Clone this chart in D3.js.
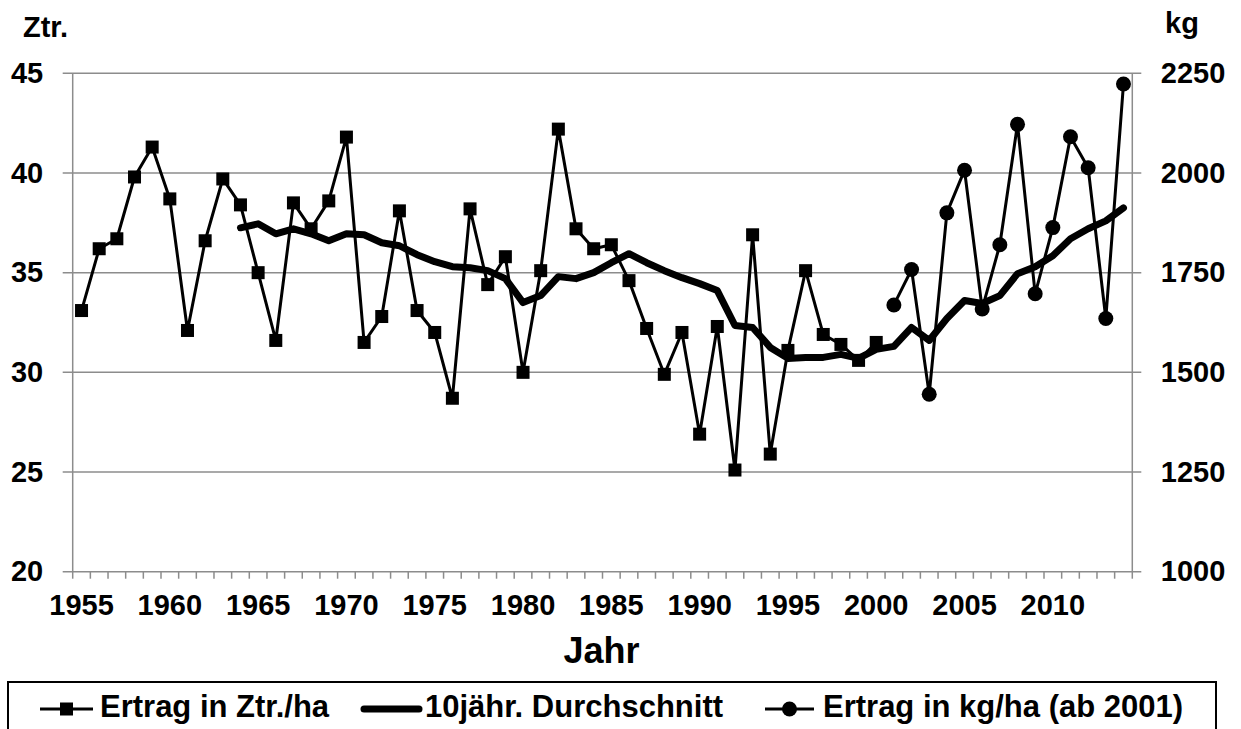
<!DOCTYPE html>
<html>
<head>
<meta charset="utf-8">
<script src="https://cdn.jsdelivr.net/npm/d3@7"></script>
<style>
  body { margin: 0; background: #fff; }
  svg text { font-family: "Liberation Sans", Arial, sans-serif; font-weight: bold; fill: #000; }
</style>
</head>
<body>
<svg id="chart" width="1241" height="729"></svg>
<script>
// years on the category axis
var years = d3.range(1955, 2015);
var labelYears = [1955, 1960, 1965, 1970, 1975, 1980, 1985, 1990, 1995, 2000, 2005, 2010];

// Ertrag in Ztr./ha, 1955-2000
var ztrYears = d3.range(1955, 2001);
var ztrValues = [33.1, 36.2, 36.7, 39.8, 41.3, 38.7, 32.1, 36.6, 39.7, 38.4,
                 35.0, 31.6, 38.5, 37.2, 38.6, 41.8, 31.5, 32.8, 38.1, 33.1,
                 32.0, 28.7, 38.2, 34.4, 35.8, 30.0, 35.1, 42.2, 37.2, 36.2,
                 36.4, 34.6, 32.2, 29.9, 32.0, 26.9, 32.3, 25.1, 36.9, 25.9,
                 31.1, 35.1, 31.9, 31.4, 30.6, 31.5];

// 10jaehr. Durchschnitt (Ztr.), 1964-2014
var avgYears = d3.range(1964, 2015);
var avgValues = [37.25, 37.45, 36.95, 37.2, 36.95, 36.6, 36.95, 36.9, 36.5, 36.35,
                 35.9, 35.55, 35.3, 35.25, 35.1, 34.7, 33.5, 33.85, 34.8, 34.7,
                 35.0, 35.5, 35.95, 35.5, 35.1, 34.75, 34.45, 34.1, 32.35, 32.25,
                 31.25, 30.7, 30.75, 30.75, 30.9, 30.7, 31.15, 31.3, 32.25, 31.6,
                 32.7, 33.6, 33.45, 33.85, 34.95, 35.3, 35.85, 36.7, 37.2, 37.6,
                 38.25];

// Ertrag in kg/ha, 2001-2014 (right axis)
var kgYears = d3.range(2001, 2015);
var kgValues = [1669, 1758, 1445, 1900, 2007, 1659, 1820, 2122, 1697, 1863, 2091, 2013, 1635, 2223];

var leftTicks = [20, 25, 30, 35, 40, 45];
var rightTicks = [1000, 1250, 1500, 1750, 2000, 2250];

var plotLeft = 72.7, plotRight = 1132.3, plotTop = 73.3, plotBottom = 571.7;
var gridColor = "#8c8c8c";

var svg = d3.select("#chart");

var x = d3.scaleBand().domain(years).range([plotLeft, plotRight]).padding(0);
var cx = function (yr) { return x(yr) + x.bandwidth() / 2; };
var yL = d3.scaleLinear().domain([20, 45]).range([plotBottom, plotTop]);
var yR = d3.scaleLinear().domain([1000, 2250]).range([plotBottom, plotTop]);

// gridlines (with outward tick stubs on both sides)
svg.append("g").selectAll("line")
  .data(leftTicks)
  .join("line")
    .attr("x1", plotLeft - 10)
    .attr("x2", plotRight + 9)
    .attr("y1", function (d) { return yL(d); })
    .attr("y2", function (d) { return yL(d); })
    .style("stroke", gridColor)
    .style("stroke-width", 1.5);

// vertical axis lines
svg.append("line")
  .attr("x1", plotLeft).attr("x2", plotLeft).attr("y1", plotTop).attr("y2", plotBottom)
  .style("stroke", gridColor).style("stroke-width", 1.5);
svg.append("line")
  .attr("x1", plotRight).attr("x2", plotRight).attr("y1", plotTop).attr("y2", plotBottom)
  .style("stroke", gridColor).style("stroke-width", 1.5);

// category tick marks at band boundaries
var boundaries = years.map(function (d) { return x(d); }).concat([plotRight]);
svg.append("g").selectAll("line")
  .data(boundaries)
  .join("line")
    .attr("x1", function (d) { return d; })
    .attr("x2", function (d) { return d; })
    .attr("y1", plotBottom)
    .attr("y2", plotBottom + 7)
    .style("stroke", gridColor)
    .style("stroke-width", 1.5);

// axes labels
var leftAxis = svg.append("g")
  .attr("transform", "translate(" + plotLeft + ",0)")
  .call(d3.axisLeft(yL).tickValues(leftTicks).tickSize(0).tickPadding(29.5).tickFormat(d3.format("d")));
var rightAxis = svg.append("g")
  .attr("transform", "translate(" + plotRight + ",0)")
  .call(d3.axisRight(yR).tickValues(rightTicks).tickSize(0).tickPadding(28.5).tickFormat(d3.format("d")));
var bottomAxis = svg.append("g")
  .attr("transform", "translate(0," + plotBottom + ")")
  .call(d3.axisBottom(x).tickValues(labelYears).tickSize(0).tickPadding(22.7));

[leftAxis, rightAxis, bottomAxis].forEach(function (g) {
  g.select(".domain").remove();
  g.selectAll("text")
    .style("font-size", "29px")
    .style("font-family", "'Liberation Sans', Arial, sans-serif")
    .style("font-weight", "bold")
    .attr("fill", "#000");
});

// axis titles
svg.append("text").attr("x", 23).attr("y", 37).text("Ztr.").style("font-size", "29px");
svg.append("text").attr("x", 1165).attr("y", 33).text("kg").style("font-size", "29px");
svg.append("text").attr("x", 601.5).attr("y", 663).attr("text-anchor", "middle")
  .text("Jahr").style("font-size", "36px");

// series
var ztrData = ztrYears.map(function (d, i) { return {year: d, value: ztrValues[i]}; });
var avgData = avgYears.map(function (d, i) { return {year: d, value: avgValues[i]}; });
var kgData = kgYears.map(function (d, i) { return {year: d, value: kgValues[i]}; });

var lineL = d3.line()
  .x(function (d) { return cx(d.year); })
  .y(function (d) { return yL(d.value); });
var lineR = d3.line()
  .x(function (d) { return cx(d.year); })
  .y(function (d) { return yR(d.value); });

svg.append("path")
  .datum(ztrData)
  .attr("d", lineL)
  .style("fill", "none")
  .style("stroke", "#000")
  .style("stroke-width", 3)
  .style("stroke-linejoin", "round");

var sq = 13;
svg.append("g").selectAll("rect")
  .data(ztrData)
  .join("rect")
    .attr("x", function (d) { return cx(d.year) - sq / 2; })
    .attr("y", function (d) { return yL(d.value) - sq / 2; })
    .attr("width", sq)
    .attr("height", sq)
    .style("fill", "#000");

svg.append("path")
  .datum(avgData)
  .attr("d", lineL)
  .style("fill", "none")
  .style("stroke", "#000")
  .style("stroke-width", 7)
  .style("stroke-linejoin", "round")
  .style("stroke-linecap", "round");

svg.append("path")
  .datum(kgData)
  .attr("d", lineR)
  .style("fill", "none")
  .style("stroke", "#000")
  .style("stroke-width", 3)
  .style("stroke-linejoin", "round");

svg.append("g").selectAll("circle")
  .data(kgData)
  .join("circle")
    .attr("cx", function (d) { return cx(d.year); })
    .attr("cy", function (d) { return yR(d.value); })
    .attr("r", 7.5)
    .style("fill", "#000");

// legend
var legend = svg.append("g");
legend.append("rect")
  .attr("x", 8).attr("y", 682).attr("width", 1208).attr("height", 80)
  .style("fill", "none").style("stroke", "#000").style("stroke-width", 2);

var legendY = 709;
legend.append("line").attr("x1", 40).attr("x2", 93).attr("y1", legendY).attr("y2", legendY)
  .style("stroke", "#000").style("stroke-width", 3);
legend.append("rect").attr("x", 66.5 - sq / 2).attr("y", legendY - sq / 2)
  .attr("width", sq).attr("height", sq).style("fill", "#000");

legend.append("line").attr("x1", 364).attr("x2", 419).attr("y1", legendY).attr("y2", legendY)
  .style("stroke", "#000").style("stroke-width", 7).style("stroke-linecap", "round");

legend.append("line").attr("x1", 765).attr("x2", 814).attr("y1", legendY).attr("y2", legendY)
  .style("stroke", "#000").style("stroke-width", 3);
legend.append("circle").attr("cx", 789.5).attr("cy", legendY).attr("r", 7.5).style("fill", "#000");

var legendLabels = ["Ertrag in Ztr./ha", "10jähr. Durchschnitt", "Ertrag in kg/ha (ab 2001)"];
var legendX = [100, 425, 823];
legend.selectAll("text.lbl")
  .data(legendLabels)
  .join("text")
    .attr("class", "lbl")
    .attr("x", function (d, i) { return legendX[i]; })
    .attr("y", 717)
    .text(function (d) { return d; })
    .style("font-size", "31px");
</script>
</body>
</html>
